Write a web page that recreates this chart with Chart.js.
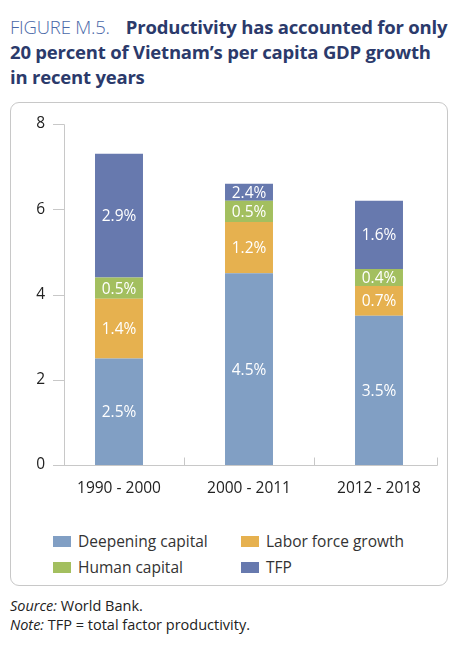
<!DOCTYPE html>
<html>
<head>
<meta charset="utf-8">
<script src="https://cdn.jsdelivr.net/npm/chart.js@4.4.1/dist/chart.umd.min.js"></script>
<style>
  html, body { margin:0; padding:0; background:#fff; }
  body { width:466px; height:654px; position:relative; font-family:"Open Sans", "Noto Sans", sans-serif; overflow:hidden; }
  #title { position:absolute; left:10px; top:14px; width:456px; font-size:18.5px; line-height:25px; color:#2b3a6b; font-weight:700; letter-spacing:-0.2px; white-space:nowrap; }
  #title .fig { font-weight:300; color:#4a68a8; letter-spacing:-0.2px; margin-right:16px; }
  #box { position:absolute; left:10px; top:102px; width:436px; height:482px; border:1px solid #c8c8c8; border-radius:9px; }
  #wrap { position:absolute; left:10px; top:103px; width:437px; height:400px; }
  #legend { position:absolute; left:53px; top:530px; width:400px; font-size:15.5px; color:#333; }
  .li { position:absolute; display:flex; align-items:center; white-space:nowrap; }
  .sw { width:18px; height:11px; margin-right:7px; }
  #notes { position:absolute; left:10px; top:596px; font-size:14.5px; line-height:19px; color:#222; }
</style>
</head>
<body>
<div id="title"><span class="fig">FIGURE M.5.</span>Productivity has accounted for only<br>20 percent of Vietnam’s per capita GDP growth<br>in recent years</div>
<div id="box"></div>
<div id="wrap"><canvas id="c" width="437" height="400"></canvas></div>
<div id="legend"></div>
<div id="notes"><i>Source:</i> World Bank.<br><i>Note:</i> TFP = total factor productivity.</div>
<script>
const categories = ["1990 - 2000", "2000 - 2011", "2012 - 2018"];
const seriesNames = ["Deepening capital", "Labor force growth", "Human capital", "TFP"];
const deepeningCapital = [2.5, 4.5, 3.5];
const laborForceGrowth = [1.4, 1.2, 0.7];
const humanCapital = [0.5, 0.5, 0.4];
const tfp = [2.9, 0.4, 1.6];
const deepeningLabels = ["2.5%", "4.5%", "3.5%"];
const laborLabels = ["1.4%", "1.2%", "0.7%"];
const humanLabels = ["0.5%", "0.5%", "0.4%"];
const tfpLabels = ["2.9%", "2.4%", "1.6%"];
const yTicks = [0, 2, 4, 6, 8];
const colors = ["#819fc4", "#e6b14f", "#a3bf5f", "#6779ae"];

const seriesData = [deepeningCapital, laborForceGrowth, humanCapital, tfp];
const seriesLabels = [deepeningLabels, laborLabels, humanLabels, tfpLabels];

const datasets = seriesNames.map((n, i) => ({
  label: n, data: seriesData[i], backgroundColor: colors[i],
  valueLabels: seriesLabels[i],
  categoryPercentage: 1.0, barPercentage: 0.369, borderWidth: 0
}));

const labelPlugin = {
  id: 'segLabels',
  afterDatasetsDraw(chart) {
    const ctx = chart.ctx;
    ctx.save();
    ctx.fillStyle = '#ffffff';
    ctx.font = '15.5px "Open Sans", "Noto Sans", sans-serif';
    ctx.textAlign = 'center';
    ctx.textBaseline = 'middle';
    chart.data.datasets.forEach((ds, di) => {
      const meta = chart.getDatasetMeta(di);
      meta.data.forEach((el, i) => {
        const y = (el.y + el.base) / 2;
        ctx.fillText(ds.valueLabels[i], el.x, y + 1);
      });
    });
    ctx.restore();
  }
};

// axis lines and tick marks drawn from the scales
const axisPlugin = {
  id: 'axisLines',
  afterDraw(chart) {
    const xs = chart.scales.x, ys = chart.scales.y;
    const ctx = chart.ctx;
    const n = categories.length;
    const w = (xs.getPixelForValue(1) - xs.getPixelForValue(0));
    const y0 = Math.round(ys.getPixelForValue(0)) + 0.5;
    const yTop = Math.round(ys.getPixelForValue(yTicks[yTicks.length - 1])) + 0.5;
    const axisX = Math.round(chart.chartArea.left + 10) + 0.5;
    const tickStart = chart.chartArea.left - 1;
    const xEnd = Math.round(chart.chartArea.right - 7) + 0.5;
    ctx.save();
    ctx.strokeStyle = '#c8c8c8';
    ctx.lineWidth = 1;
    ctx.beginPath();
    ctx.moveTo(axisX, yTop); ctx.lineTo(axisX, y0);
    yTicks.forEach(v => {
      const y = Math.round(ys.getPixelForValue(v)) + 0.5;
      ctx.moveTo(tickStart, y); ctx.lineTo(axisX, y);
    });
    ctx.moveTo(tickStart, y0); ctx.lineTo(xEnd, y0);
    for (let i = 0; i < n - 1; i++) {
      const x = Math.round(xs.getPixelForValue(i) + w / 2) + 0.5;
      ctx.moveTo(x, y0); ctx.lineTo(x, y0 - 8);
    }
    ctx.moveTo(xEnd, y0); ctx.lineTo(xEnd, y0 - 8);
    ctx.stroke();
    ctx.restore();
  }
};

new Chart(document.getElementById('c'), {
  type: 'bar',
  data: { labels: categories, datasets },
  options: {
    responsive: false,
    animation: false,
    layout: { padding: { top: 21, right: 3, left: 0, bottom: 0 } },
    plugins: { legend: { display: false }, tooltip: { enabled: false } },
    scales: {
      x: {
        stacked: true,
        grid: { display: false, drawTicks: false },
        border: { display: false },
        ticks: { color: '#222', padding: 14, font: { size: 15.5, family: '"Open Sans", "Noto Sans", sans-serif' } },
        afterFit(s) { s.height = 38; }
      },
      y: {
        stacked: true,
        min: 0, max: 8,
        afterBuildTicks(s) { s.ticks = yTicks.map(v => ({ value: v })); },
        grid: { display: false, drawTicks: false },
        border: { display: false },
        ticks: { color: '#222', padding: 9, font: { size: 15.5, family: '"Open Sans", "Noto Sans", sans-serif' } },
        afterFit(s) { s.width = 44; }
      }
    }
  },
  plugins: [labelPlugin, axisPlugin]
});

const lg = document.getElementById('legend');
const pos = [[0,0],[188,0],[0,26],[188,26]];
seriesNames.forEach((n, i) => {
  const d = document.createElement('div');
  d.className = 'li';
  d.style.left = pos[i][0] + 'px';
  d.style.top = pos[i][1] + 'px';
  d.innerHTML = '<span class="sw" style="background:' + colors[i] + '"></span><span>' + n + '</span>';
  lg.appendChild(d);
});
</script>
</body>
</html>
